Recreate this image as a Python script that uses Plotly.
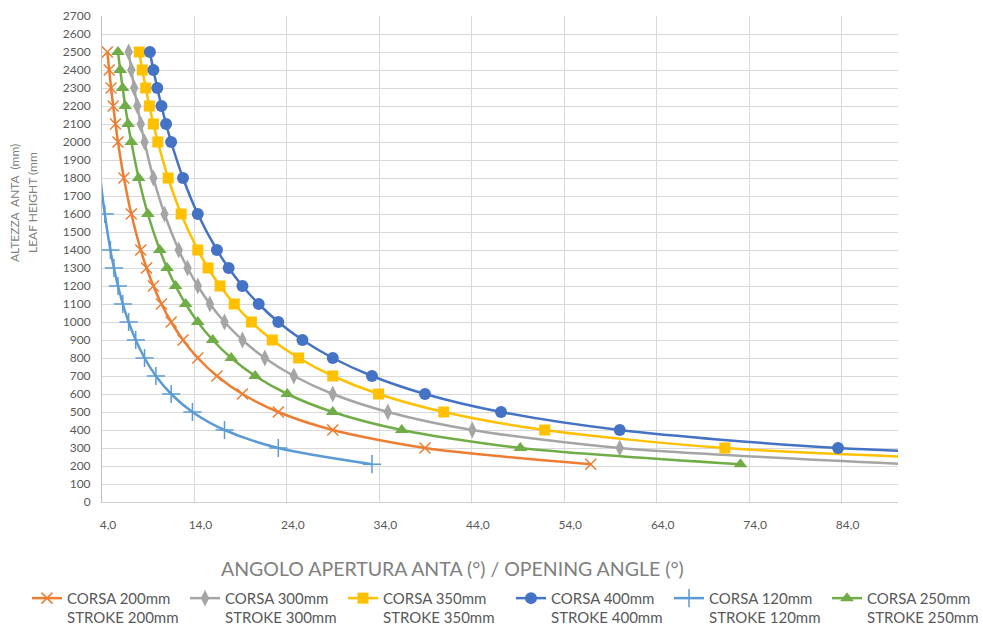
import plotly.graph_objects as go

# Leaf height (mm) - shared y values
heights = [2500, 2400, 2300, 2200, 2100, 2000, 1800, 1600, 1400, 1300, 1200,
           1100, 1000, 900, 800, 700, 600, 500, 400, 300, 210]

# Opening angle (deg) per stroke
angle_200 = [4.58, 4.78, 4.98, 5.21, 5.46, 5.73, 6.37, 7.17, 8.19, 8.82, 9.56,
             10.43, 11.48, 12.76, 14.36, 16.43, 19.19, 23.07, 28.96, 38.94, 56.87]
angle_300 = [6.88, 7.17, 7.48, 7.82, 8.19, 8.60, 9.56, 10.76, 12.30, 13.25, 14.36,
             15.67, 17.25, 19.19, 21.61, 24.75, 28.96, 34.92, 44.05, 60.00, 91.17]
angle_350 = [8.03, 8.36, 8.73, 9.12, 9.56, 10.04, 11.16, 12.56, 14.36, 15.47, 16.77,
             18.31, 20.16, 22.42, 25.27, 28.96, 33.92, 40.97, 51.89, 71.37, 112.89]
angle_400 = [9.18, 9.56, 9.98, 10.43, 10.93, 11.48, 12.76, 14.36, 16.43, 17.70, 19.19,
             20.95, 23.07, 25.68, 28.96, 33.20, 38.94, 47.16, 60.00, 83.62, 144.49]
angle_120 = [2.75, 2.86, 2.99, 3.13, 3.27, 3.44, 3.82, 4.30, 4.91, 5.29, 5.73,
             6.25, 6.88, 7.65, 8.60, 9.83, 11.48, 13.78, 17.25, 23.07, 33.20]
angle_250 = [5.73, 5.97, 6.23, 6.51, 6.82, 7.17, 7.96, 8.96, 10.25, 11.04, 11.96,
             13.05, 14.36, 15.97, 17.98, 20.57, 24.05, 28.96, 36.42, 49.25, 73.06]

series_names = ["CORSA 200mm<br>STROKE 200mm", "CORSA 300mm<br>STROKE 300mm",
                "CORSA 350mm<br>STROKE 350mm", "CORSA 400mm<br>STROKE 400mm",
                "CORSA 120mm<br>STROKE 120mm", "CORSA 250mm<br>STROKE 250mm"]

x_tickvals = [4, 14, 24, 34, 44, 54, 64, 74, 84]
x_ticktext = ["4,0", "14,0", "24,0", "34,0", "44,0", "54,0", "64,0", "74,0", "84,0"]
y_tickvals = list(range(0, 2701, 100))

X_MIN, X_MAX = 4, 90.1


def in_range(xs):
    # like Excel: markers whose centre is off the axis range are not drawn
    return [i for i, a in enumerate(xs) if X_MIN <= a <= X_MAX]


series = [
    (angle_200, "#ED7D31", dict(symbol="x-thin-open", size=11, line=dict(width=1.5, color="#ED7D31")), "legend"),
    (angle_300, "#A5A5A5", dict(symbol="diamond-tall", size=12), "legend"),
    (angle_350, "#FFC000", dict(symbol="square", size=11), "legend"),
    (angle_400, "#4472C4", dict(symbol="circle", size=12), "legend2"),
    (angle_120, "#5B9BD5", dict(symbol="cross-thin-open", size=13, line=dict(width=1.5, color="#5B9BD5")), "legend2"),
    (angle_250, "#70AD47", dict(symbol="triangle-up", size=12), "legend2"),
]

FONT = "Lato"
fig = go.Figure()
for (xs, color, marker, lg), name in zip(series, series_names):
    m = dict(color=color)
    m.update(marker)
    fig.add_trace(go.Scatter(
        x=xs, y=heights, name=name, mode="lines+markers", legend=lg,
        line=dict(color=color, width=2.5, shape="spline", smoothing=0.8),
        marker=m,
        selectedpoints=in_range(xs),
        selected=dict(marker=dict(opacity=1)),
        unselected=dict(marker=dict(opacity=0)),
    ))

legend_common = dict(
    orientation="h", xref="container", yref="container",
    xanchor="left", y=0.069, yanchor="top",
    font=dict(size=15, color="#595959", family=FONT),
    entrywidth=113, entrywidthmode="pixels", valign="top",
    tracegroupgap=0, itemclick=False, bgcolor="rgba(0,0,0,0)",
)

fig.update_layout(
    width=983, height=625,
    margin=dict(l=102, r=85, t=16, b=123, autoexpand=False),
    paper_bgcolor="white", plot_bgcolor="white",
    font=dict(family=FONT, color="#595959"),
    showlegend=True,
    legend=dict(legend_common, x=27 / 983),
    legend2=dict(legend_common, x=511 / 983),
    xaxis=dict(
        range=[X_MIN, X_MAX], tickvals=x_tickvals, ticktext=x_ticktext,
        showgrid=True, gridcolor="#d9d9d9", gridwidth=1,
        zeroline=False, showline=True, linecolor="#d0d0d0", linewidth=1,
        ticks="", ticklabelstandoff=12, ticklabelshift=6,
        tickfont=dict(size=12, color="#595959", family=FONT),
    ),
    yaxis=dict(
        range=[0, 2700], tickvals=y_tickvals,
        showgrid=True, gridcolor="#d9d9d9", gridwidth=1,
        zeroline=False, showline=True, linecolor="#bfbfbf", linewidth=1,
        ticks="", ticklabelstandoff=8,
        tickfont=dict(size=12, color="#595959", family=FONT),
    ),
    annotations=[
        dict(text="ANGOLO APERTURA ANTA (°) / OPENING ANGLE (°)",
             xref="paper", yref="paper", x=(452 - 102) / 796, y=(502 - 568) / 486,
             xanchor="center", yanchor="middle", showarrow=False,
             font=dict(size=19.5, color="#808080", family=FONT)),
        dict(text="ALTEZZA\u00a0 ANTA\u00a0 (mm)",
             xref="paper", yref="paper", x=(15 - 102) / 796, y=(502 - 203) / 486,
             xanchor="center", yanchor="middle", textangle=-90, showarrow=False,
             font=dict(size=12, color="#808080", family=FONT)),
        dict(text="LEAF HEIGHT (mm",
             xref="paper", yref="paper", x=(33 - 102) / 796, y=(502 - 203) / 486,
             xanchor="center", yanchor="middle", textangle=-90, showarrow=False,
             font=dict(size=12, color="#808080", family=FONT)),
    ],
)

fig.write_html("out.html", config={"displayModeBar": False},
               post_script="document.body.style.margin='0';")
